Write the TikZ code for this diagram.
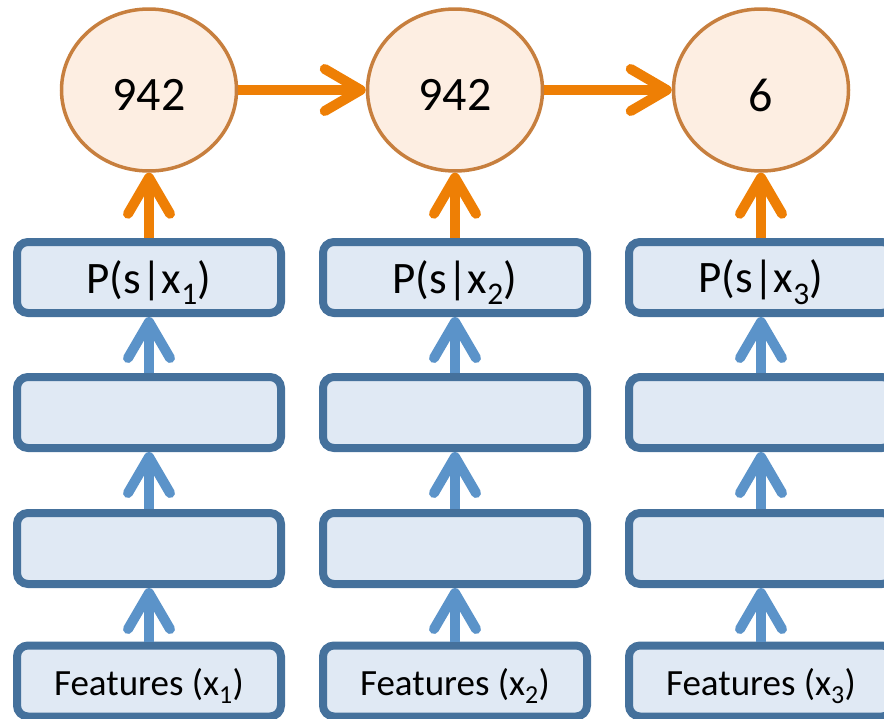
\documentclass[tikz,border=0pt]{standalone}
\usepackage{fontspec}
\setmainfont{Carlito}
\usetikzlibrary{arrows.meta,shapes.geometric}
\definecolor{boxdraw}{HTML}{45719C}
\definecolor{boxfill}{HTML}{E0E9F4}
\definecolor{bluearr}{HTML}{5B93C9}
\definecolor{orangearr}{HTML}{EE7F05}
\definecolor{elldraw}{HTML}{C77F3E}
\definecolor{ellfill}{HTML}{FDEEE2}
\newcommand{\lowtext}[1]{\raisebox{-5pt}[\height][\depth]{#1}}
\tikzset{
  layerbox/.style={draw=boxdraw, fill=boxfill, line width=8pt, rounded corners=11pt,
    minimum width=264pt, minimum height=71pt, inner sep=0pt, font=\fontsize{45}{52}\selectfont},
  featbox/.style={layerbox, font=\fontsize{37}{44}\selectfont},
  state/.style={ellipse, draw=elldraw, fill=ellfill, line width=3.5pt,
    minimum width=175pt, minimum height=162pt, inner sep=0pt, font=\fontsize{48}{56}\selectfont},
  bluecon/.style={draw=bluearr, line width=10pt,
    -{Straight Barb[length=36pt,width=42pt,round]}},
  orangecon/.style={draw=orangearr, line width=10pt,
    -{Straight Barb[length=36pt,width=42pt,round]}},
}
\begin{document}
\begin{tikzpicture}[x=1pt,y=-1pt]
\useasboundingbox (0,0) rectangle (884,718);
\foreach \i/\x/\v in {1/149/942,2/455/942,3/761/6}{
  \node[state] (s\i) at (\x,90) {\lowtext{\v}};
  \node[layerbox] (p\i) at (\x,277.5) {\lowtext{P(s|x\textsubscript{\i})}};
  \node[layerbox] (h\i) at (\x,412.5) {};
  \node[layerbox] (g\i) at (\x,548.5) {};
  \node[featbox] (f\i) at (\x,681) {\lowtext{Features (x\textsubscript{\i})}};
  \draw[bluecon] (f\i.north) -- (g\i.south);
  \draw[bluecon] (g\i.north) -- (h\i.south);
  \draw[bluecon] (h\i.north) -- (p\i.south);
  \draw[orangecon] (p\i.north) -- (s\i.south);
}
\draw[orangecon] (s1.east) -- (s2.west);
\draw[orangecon] (s2.east) -- (s3.west);
\end{tikzpicture}
\end{document}
